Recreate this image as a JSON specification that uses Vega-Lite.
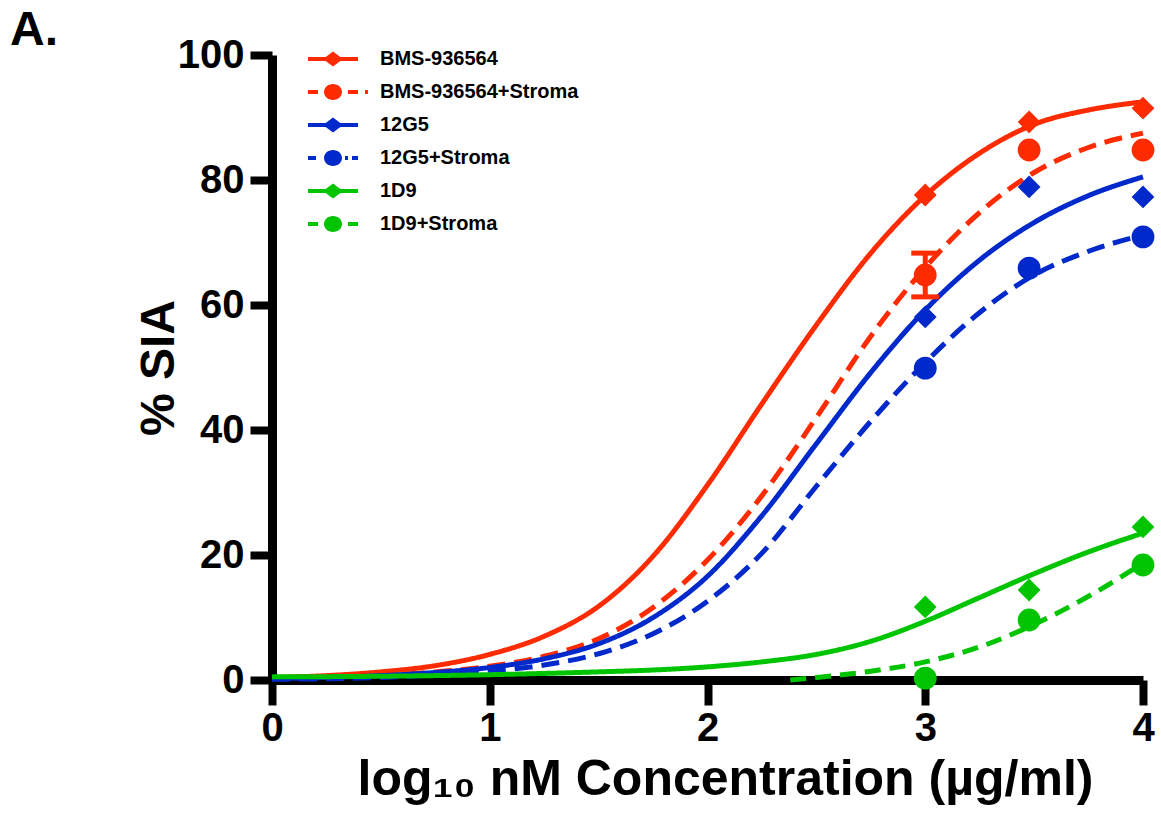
{
  "$schema": "https://vega.github.io/schema/vega-lite/v6.json",
  "width": 871,
  "height": 625,
  "autosize": "none",
  "padding": {"left": 272, "top": 55, "right": 18, "bottom": 138},
  "background": "white",
  "title": {"text": "A.", "anchor": "start", "frame": "group", "dx": -262, "dy": 58, "offset": 0, "fontSize": 48, "fontWeight": "bold", "font": "Liberation Sans", "color": "black", "baseline": "alphabetic"},
  "config": {
    "view": {"stroke": null},
    "axis": {"grid": false, "domainColor": "black", "domainWidth": 9, "tickColor": "black", "tickWidth": 8, "labelFont": "Liberation Sans", "labelFontWeight": "bold", "labelFontSize": 40, "labelColor": "black", "labelFlush": false, "titleFont": "Liberation Sans", "titleFontWeight": "bold", "titleColor": "black"},
    "legend": {"orient": "none", "legendX": 51, "legendY": -6, "padding": 0, "labelFont": "Liberation Sans", "labelFontWeight": "bold", "labelFontSize": 20, "labelColor": "black", "labelOffset": 37, "labelLimit": 0, "rowPadding": 13, "symbolSize": 400, "symbolStrokeWidth": 0, "title": null}
  },
  "datasets": {
    "curves": [
      {"series": "BMS-936564", "x": 0, "y": 0.4}, {"series": "BMS-936564", "x": 0.25, "y": 0.7}, {"series": "BMS-936564", "x": 0.5, "y": 1.3}, {"series": "BMS-936564", "x": 0.75, "y": 2.3}, {"series": "BMS-936564", "x": 1, "y": 4.1}, {"series": "BMS-936564", "x": 1.25, "y": 7.0}, {"series": "BMS-936564", "x": 1.5, "y": 11.8}, {"series": "BMS-936564", "x": 1.75, "y": 19.8}, {"series": "BMS-936564", "x": 2, "y": 31.2}, {"series": "BMS-936564", "x": 2.25, "y": 44.2}, {"series": "BMS-936564", "x": 2.5, "y": 56.8}, {"series": "BMS-936564", "x": 2.75, "y": 68.3}, {"series": "BMS-936564", "x": 3, "y": 77.5}, {"series": "BMS-936564", "x": 3.25, "y": 84.3}, {"series": "BMS-936564", "x": 3.5, "y": 88.9}, {"series": "BMS-936564", "x": 3.75, "y": 91.2}, {"series": "BMS-936564", "x": 4, "y": 92.5},
      {"series": "BMS-936564+Stroma", "x": 0, "y": 0.2}, {"series": "BMS-936564+Stroma", "x": 0.25, "y": 0.4}, {"series": "BMS-936564+Stroma", "x": 0.5, "y": 0.7}, {"series": "BMS-936564+Stroma", "x": 0.75, "y": 1.3}, {"series": "BMS-936564+Stroma", "x": 1, "y": 2.2}, {"series": "BMS-936564+Stroma", "x": 1.25, "y": 3.8}, {"series": "BMS-936564+Stroma", "x": 1.5, "y": 6.6}, {"series": "BMS-936564+Stroma", "x": 1.75, "y": 11.6}, {"series": "BMS-936564+Stroma", "x": 2, "y": 19.2}, {"series": "BMS-936564+Stroma", "x": 2.25, "y": 29.5}, {"series": "BMS-936564+Stroma", "x": 2.5, "y": 42}, {"series": "BMS-936564+Stroma", "x": 2.75, "y": 55}, {"series": "BMS-936564+Stroma", "x": 3, "y": 66}, {"series": "BMS-936564+Stroma", "x": 3.25, "y": 74.8}, {"series": "BMS-936564+Stroma", "x": 3.5, "y": 81.2}, {"series": "BMS-936564+Stroma", "x": 3.75, "y": 85.2}, {"series": "BMS-936564+Stroma", "x": 4, "y": 87.5},
      {"series": "12G5", "x": 0, "y": 0.2}, {"series": "12G5", "x": 0.25, "y": 0.4}, {"series": "12G5", "x": 0.5, "y": 0.7}, {"series": "12G5", "x": 0.75, "y": 1.2}, {"series": "12G5", "x": 1, "y": 2.0}, {"series": "12G5", "x": 1.25, "y": 3.4}, {"series": "12G5", "x": 1.5, "y": 5.8}, {"series": "12G5", "x": 1.75, "y": 10.0}, {"series": "12G5", "x": 2, "y": 16.6}, {"series": "12G5", "x": 2.25, "y": 26.3}, {"series": "12G5", "x": 2.5, "y": 37.8}, {"series": "12G5", "x": 2.75, "y": 49.2}, {"series": "12G5", "x": 3, "y": 59.2}, {"series": "12G5", "x": 3.25, "y": 67.2}, {"series": "12G5", "x": 3.5, "y": 73.2}, {"series": "12G5", "x": 3.75, "y": 77.5}, {"series": "12G5", "x": 4, "y": 80.5},
      {"series": "12G5+Stroma", "x": 0, "y": 0.1}, {"series": "12G5+Stroma", "x": 0.25, "y": 0.2}, {"series": "12G5+Stroma", "x": 0.5, "y": 0.4}, {"series": "12G5+Stroma", "x": 0.75, "y": 0.8}, {"series": "12G5+Stroma", "x": 1, "y": 1.4}, {"series": "12G5+Stroma", "x": 1.25, "y": 2.4}, {"series": "12G5+Stroma", "x": 1.5, "y": 4.2}, {"series": "12G5+Stroma", "x": 1.75, "y": 7.4}, {"series": "12G5+Stroma", "x": 2, "y": 12.6}, {"series": "12G5+Stroma", "x": 2.25, "y": 20.3}, {"series": "12G5+Stroma", "x": 2.5, "y": 31}, {"series": "12G5+Stroma", "x": 2.75, "y": 41.4}, {"series": "12G5+Stroma", "x": 3, "y": 50.8}, {"series": "12G5+Stroma", "x": 3.25, "y": 58.8}, {"series": "12G5+Stroma", "x": 3.5, "y": 64.8}, {"series": "12G5+Stroma", "x": 3.75, "y": 68.6}, {"series": "12G5+Stroma", "x": 4, "y": 71.2},
      {"series": "1D9", "x": 0, "y": 0.5}, {"series": "1D9", "x": 0.5, "y": 0.6}, {"series": "1D9", "x": 1, "y": 0.85}, {"series": "1D9", "x": 1.5, "y": 1.3}, {"series": "1D9", "x": 1.75, "y": 1.6}, {"series": "1D9", "x": 2, "y": 2.1}, {"series": "1D9", "x": 2.25, "y": 2.9}, {"series": "1D9", "x": 2.5, "y": 4.1}, {"series": "1D9", "x": 2.75, "y": 6.2}, {"series": "1D9", "x": 3, "y": 9.4}, {"series": "1D9", "x": 3.25, "y": 13.2}, {"series": "1D9", "x": 3.5, "y": 17.0}, {"series": "1D9", "x": 3.75, "y": 20.5}, {"series": "1D9", "x": 4, "y": 23.5},
      {"series": "1D9+Stroma", "x": 2.38, "y": 0}, {"series": "1D9+Stroma", "x": 2.5, "y": 0.4}, {"series": "1D9+Stroma", "x": 2.75, "y": 1.4}, {"series": "1D9+Stroma", "x": 3, "y": 2.9}, {"series": "1D9+Stroma", "x": 3.25, "y": 5.3}, {"series": "1D9+Stroma", "x": 3.5, "y": 8.9}, {"series": "1D9+Stroma", "x": 3.75, "y": 13.4}, {"series": "1D9+Stroma", "x": 4, "y": 18.7}
    ],
    "points": [
      {"series": "BMS-936564", "x": 3, "y": 77.6}, {"series": "BMS-936564", "x": 3.477, "y": 89.3}, {"series": "BMS-936564", "x": 4, "y": 91.5},
      {"series": "BMS-936564+Stroma", "x": 3, "y": 64.8}, {"series": "BMS-936564+Stroma", "x": 3.477, "y": 84.8}, {"series": "BMS-936564+Stroma", "x": 4, "y": 84.8},
      {"series": "12G5", "x": 3, "y": 58.1}, {"series": "12G5", "x": 3.477, "y": 78.9}, {"series": "12G5", "x": 4, "y": 77.3},
      {"series": "12G5+Stroma", "x": 3, "y": 49.9}, {"series": "12G5+Stroma", "x": 3.477, "y": 65.9}, {"series": "12G5+Stroma", "x": 4, "y": 70.9},
      {"series": "1D9", "x": 3, "y": 11.7}, {"series": "1D9", "x": 3.477, "y": 14.4}, {"series": "1D9", "x": 4, "y": 24.5},
      {"series": "1D9+Stroma", "x": 3, "y": 0.3}, {"series": "1D9+Stroma", "x": 3.477, "y": 9.6}, {"series": "1D9+Stroma", "x": 4, "y": 18.4}
    ],
    "errors": [
      {"series": "BMS-936564+Stroma", "x": 3, "lo": 61.3, "hi": 68.3}
    ],
    "caps": [
      {"series": "BMS-936564+Stroma", "x": 3, "y": 61.3},
      {"series": "BMS-936564+Stroma", "x": 3, "y": 68.3}
    ]
  },
  "layer": [
    {
      "data": {"name": "curves"},
      "mark": {"type": "line", "strokeWidth": 5, "interpolate": "monotone", "strokeCap": "butt"},
      "encoding": {
        "x": {"field": "x", "type": "quantitative", "scale": {"domain": [0, 4], "nice": false}, "axis": {"values": [0, 1, 2, 3, 4], "format": "d", "title": "log₁₀ nM Concentration (µg/ml)", "titleFontSize": 50, "tickSize": 25, "labelPadding": 3, "titlePadding": 6, "titleX": 453}},
        "y": {"field": "y", "type": "quantitative", "scale": {"domain": [0, 100], "nice": false}, "axis": {"values": [0, 20, 40, 60, 80, 100], "format": "d", "title": "% SIA", "titleFontSize": 48, "tickSize": 22, "labelPadding": 6, "titlePadding": -6}},
        "color": {"field": "series", "type": "nominal", "scale": {"domain": ["BMS-936564", "BMS-936564+Stroma", "12G5", "12G5+Stroma", "1D9", "1D9+Stroma"], "range": ["#ff2b00", "#ff2b00", "#0029cc", "#0029cc", "#00c400", "#00c400"]}, "legend": null},
        "strokeDash": {"field": "series", "type": "nominal", "scale": {"domain": ["BMS-936564", "BMS-936564+Stroma", "12G5", "12G5+Stroma", "1D9", "1D9+Stroma"], "range": [[1, 0], [18, 9], [1, 0], [18, 9], [1, 0], [16, 9]]}, "legend": null}
      }
    },
    {
      "data": {"name": "errors"},
      "mark": {"type": "rule", "strokeWidth": 5},
      "encoding": {
        "x": {"field": "x", "type": "quantitative"},
        "y": {"field": "lo", "type": "quantitative"},
        "y2": {"field": "hi"},
        "color": {"field": "series", "type": "nominal", "legend": null}
      }
    },
    {
      "data": {"name": "caps"},
      "mark": {"type": "tick", "orient": "horizontal", "size": 28, "thickness": 5, "opacity": 1},
      "encoding": {
        "x": {"field": "x", "type": "quantitative"},
        "y": {"field": "y", "type": "quantitative"},
        "color": {"field": "series", "type": "nominal", "legend": null}
      }
    },
    {
      "data": {"name": "points"},
      "mark": {"type": "point", "filled": true, "opacity": 1, "size": 520, "strokeWidth": 0},
      "encoding": {
        "x": {"field": "x", "type": "quantitative"},
        "y": {"field": "y", "type": "quantitative"},
        "color": {"field": "series", "type": "nominal", "legend": null},
        "shape": {"field": "series", "type": "nominal", "scale": {"domain": ["BMS-936564", "BMS-936564+Stroma", "12G5", "12G5+Stroma", "1D9", "1D9+Stroma"], "range": ["diamond", "circle", "diamond", "circle", "diamond", "circle"]}, "legend": null}
      }
    },
    {
      "data": {"values": []},
      "mark": {"type": "point", "filled": true, "opacity": 1, "size": 400, "strokeWidth": 0},
      "encoding": {
        "fill": {"field": "series", "type": "nominal", "scale": {"domain": ["BMS-936564", "BMS-936564+Stroma", "12G5", "12G5+Stroma", "1D9", "1D9+Stroma"], "range": ["#ff2b00", "#ff2b00", "#0029cc", "#0029cc", "#00c400", "#00c400"]}, "legend": {}},
        "shape": {"field": "series", "type": "nominal", "scale": {"domain": ["BMS-936564", "BMS-936564+Stroma", "12G5", "12G5+Stroma", "1D9", "1D9+Stroma"], "range": [
          "M-2.5,-0.2L2.5,-0.2L2.5,0.2L-2.5,0.2Z M-1,0L0,-0.75L1,0L0,0.75Z",
          "M-2.5,-0.2L-1.5,-0.2L-1.5,0.2L-2.5,0.2Z M1.5,-0.2L2.5,-0.2L2.5,0.2L1.5,0.2Z M3.2,-0.2L3.5,-0.2L3.5,0.2L3.2,0.2Z M0.9,0A0.9,0.8 0 1,1 -0.9,0A0.9,0.8 0 1,1 0.9,0Z",
          "M-2.5,-0.2L2.5,-0.2L2.5,0.2L-2.5,0.2Z M-1,0L0,-0.75L1,0L0,0.75Z",
          "M-2.5,-0.2L-1.7,-0.2L-1.7,0.2L-2.5,0.2Z M1.2,-0.2L1.5,-0.2L1.5,0.2L1.2,0.2Z M1.9,-0.2L2.5,-0.2L2.5,0.2L1.9,0.2Z M0.9,0A0.9,0.8 0 1,1 -0.9,0A0.9,0.8 0 1,1 0.9,0Z",
          "M-2.5,-0.2L2.5,-0.2L2.5,0.2L-2.5,0.2Z M-1,0L0,-0.75L1,0L0,0.75Z",
          "M-2.5,-0.2L-1.5,-0.2L-1.5,0.2L-2.5,0.2Z M1.5,-0.2L2.5,-0.2L2.5,0.2L1.5,0.2Z M0.9,0A0.9,0.8 0 1,1 -0.9,0A0.9,0.8 0 1,1 0.9,0Z"
        ]}, "legend": {}}
      }
    }
  ],
  "resolve": {"scale": {"shape": "independent"}, "legend": {"shape": "independent", "fill": "independent"}}
}
